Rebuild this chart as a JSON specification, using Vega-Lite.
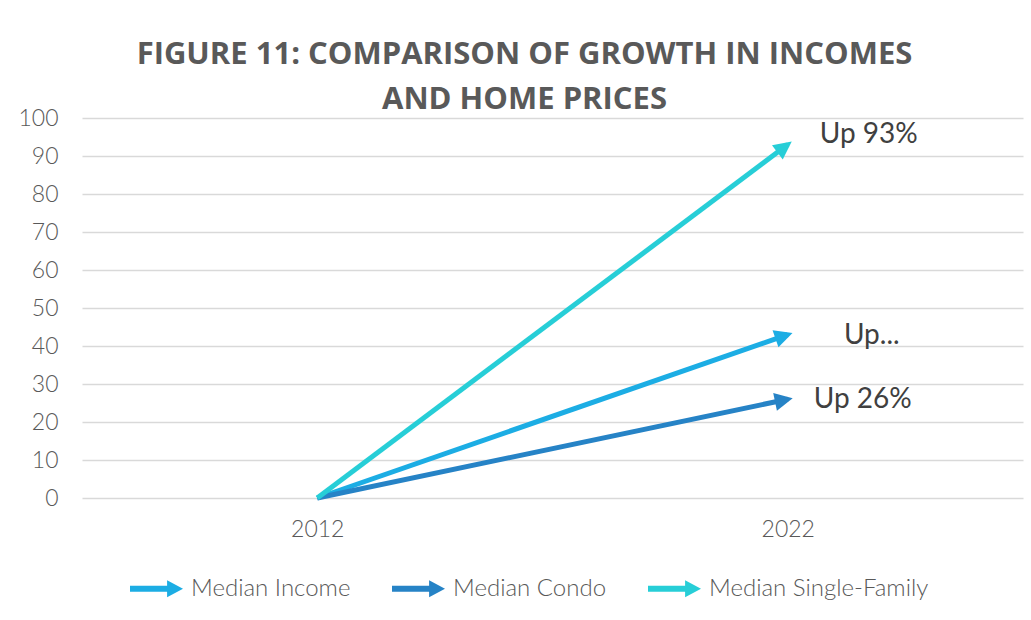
{
  "$schema": "https://vega.github.io/schema/vega-lite/v6.json",
  "width": 941,
  "height": 380,
  "autosize": {"type": "none"},
  "padding": {"left": 82, "top": 118, "right": 8, "bottom": 122},
  "background": "white",
  "title": {
    "text": ["FIGURE 11: COMPARISON OF GROWTH IN INCOMES", "AND HOME PRICES"],
    "font": "Open Sans",
    "fontWeight": "bold",
    "fontSize": 31,
    "lineHeight": 45,
    "color": "#595959",
    "anchor": "middle",
    "frame": "group",
    "dx": -28,
    "offset": -9
  },
  "data": {
    "values": [
      {"year": "2012", "series": "Median Income", "value": 0, "label": ""},
      {"year": "2022", "series": "Median Income", "value": 43, "label": "Up..."},
      {"year": "2012", "series": "Median Condo", "value": 0, "label": ""},
      {"year": "2022", "series": "Median Condo", "value": 26, "label": "Up 26%"},
      {"year": "2012", "series": "Median Single-Family", "value": 0, "label": ""},
      {"year": "2022", "series": "Median Single-Family", "value": 93, "label": "Up 93%"}
    ]
  },
  "encoding": {
    "x": {
      "field": "year",
      "type": "ordinal",
      "scale": {"type": "point", "padding": 0.5},
      "axis": {
        "title": null,
        "labelAngle": 0,
        "domain": false,
        "ticks": false,
        "grid": false,
        "labelPadding": 20,
        "labelFont": "Lato",
        "labelFontWeight": 300,
        "labelFontSize": 23,
        "labelColor": "#595959"
      }
    },
    "y": {
      "field": "value",
      "type": "quantitative",
      "scale": {"domain": [0, 100], "nice": false},
      "axis": {
        "title": null,
        "values": [0, 10, 20, 30, 40, 50, 60, 70, 80, 90, 100],
        "domain": false,
        "ticks": false,
        "grid": true,
        "gridColor": "#d9d9d9",
        "gridWidth": 1.5,
        "labelPadding": 24,
        "labelFont": "Lato",
        "labelFontWeight": 300,
        "labelFontSize": 23,
        "labelColor": "#595959"
      }
    }
  },
  "layer": [
    {
      "mark": {"type": "line", "strokeWidth": 5, "strokeCap": "butt"},
      "encoding": {
        "color": {
          "field": "series",
          "type": "nominal",
          "scale": {
            "domain": ["Median Income", "Median Condo", "Median Single-Family"],
            "range": ["#1CADE4", "#2683C6", "#27CED7"]
          },
          "legend": {
            "orient": "none",
            "direction": "horizontal",
            "legendX": 48,
            "legendY": 444,
            "padding": 0,
            "title": null,
            "symbolType": "M-1,-0.11 L0.4,-0.11 L0.4,-0.32 L1,0 L0.4,0.32 L0.4,0.11 L-1,0.11 Z",
            "symbolSize": 2809,
            "symbolStrokeWidth": 0,
            "labelFont": "Lato",
            "labelFontWeight": 300,
            "labelFontSize": 24,
            "labelColor": "#595959",
            "labelOffset": 8,
            "labelLimit": 0,
            "columnPadding": 41,
            "encode": {
              "symbols": {
                "update": {
                  "fill": {"scale": "color", "field": "value"},
                  "stroke": {"value": "transparent"},
                  "strokeWidth": {"value": 0},
                  "opacity": {"value": 1}
                }
              }
            }
          }
        }
      }
    },
    {
      "transform": [{"filter": "datum.year == '2022' && datum.series == 'Median Single-Family'"}],
      "mark": {"type": "point", "filled": true, "opacity": 1, "size": 1296, "color": "#27CED7", "angle": 323.1, "shape": "M0.28,0 L-0.72,-0.5 L-0.72,0.5 Z"}
    },
    {
      "transform": [{"filter": "datum.year == '2022' && datum.series == 'Median Income'"}],
      "mark": {"type": "point", "filled": true, "opacity": 1, "size": 1296, "color": "#1CADE4", "angle": 340.9, "shape": "M0.28,0 L-0.72,-0.5 L-0.72,0.5 Z"}
    },
    {
      "transform": [{"filter": "datum.year == '2022' && datum.series == 'Median Condo'"}],
      "mark": {"type": "point", "filled": true, "opacity": 1, "size": 1296, "color": "#2683C6", "angle": 348.15, "shape": "M0.28,0 L-0.72,-0.5 L-0.72,0.5 Z"}
    },
    {
      "transform": [{"filter": "datum.year == '2022' && datum.series == 'Median Single-Family'"}],
      "mark": {"type": "text", "font": "Lato", "fontSize": 28, "color": "#404040", "align": "center", "baseline": "middle", "dx": 81, "dy": -10},
      "encoding": {"text": {"field": "label"}}
    },
    {
      "transform": [{"filter": "datum.year == '2022' && datum.series == 'Median Income'"}],
      "mark": {"type": "text", "font": "Lato", "fontSize": 28, "color": "#404040", "align": "center", "baseline": "middle", "dx": 84, "dy": 1},
      "encoding": {"text": {"field": "label"}}
    },
    {
      "transform": [{"filter": "datum.year == '2022' && datum.series == 'Median Condo'"}],
      "mark": {"type": "text", "font": "Lato", "fontSize": 28, "color": "#404040", "align": "center", "baseline": "middle", "dx": 75, "dy": 1},
      "encoding": {"text": {"field": "label"}}
    }
  ],
  "config": {
    "view": {"stroke": null}
  }
}
